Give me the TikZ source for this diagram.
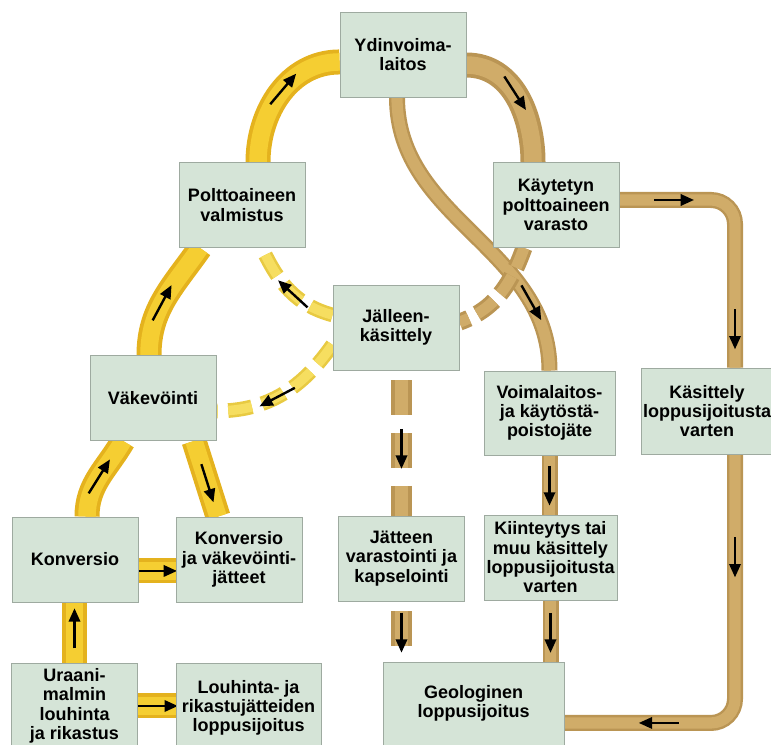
\documentclass[tikz,border=0pt]{standalone}
\usepackage{fontspec}
\setmainfont{Liberation Sans}
\usetikzlibrary{arrows.meta,decorations.markings}
\definecolor{boxfill}{RGB}{213,228,215}
\definecolor{boxline}{RGB}{158,170,160}
\definecolor{goldedge}{RGB}{228,178,30}
\definecolor{goldcore}{RGB}{245,206,50}
\definecolor{tanedge}{RGB}{186,149,84}
\definecolor{tancore}{RGB}{208,172,105}
\definecolor{paleedge}{RGB}{232,202,66}
\definecolor{palecore}{RGB}{246,222,96}
\pgfdeclarelayer{background}
\pgfsetlayers{background,main}
\tikzset{
  box/.style={rectangle, fill=boxfill, draw=boxline, line width=0.7pt,
    minimum width=94.5pt, minimum height=63.75pt, inner sep=1pt, align=center,
    font=\fontsize{13.5}{14.5}\selectfont\bfseries},
  pipe/.style n args={3}{draw=#2, line width=0.7*#3, preaction={draw=#1, line width=#3}},
  dashpipe/.style n args={4}{draw=#2, line width=0.65*#3, dash=#4,
    preaction={draw=#1, line width=#3, dash=#4}},
  ypipe/.style={pipe={goldedge}{goldcore}{18.75pt}},
  tpipe/.style={pipe={tanedge}{tancore}{12pt}},
  tpipe thick/.style={pipe={tanedge}{tancore}{18.75pt}},
  ydash/.style={dashpipe={paleedge}{palecore}{11pt}{on 18pt off 8pt phase 0pt}},
  tdash/.style={dashpipe={tanedge}{tancore}{15.75pt}{on 26pt off 13.5pt phase 32pt}},
  tdash thin/.style={dashpipe={tanedge}{tancore}{12.75pt}{on 16pt off 7pt phase 0pt}},
  flowarrow/.style={solid, draw=black, line width=1.8pt, line cap=butt,
    -{Triangle[length=10pt,width=8.5pt]}},
  flow/.style={postaction={decorate, decoration={markings,
    mark=at position #1 with {\draw[flowarrow] (-20,0) -- (20,0);}}}}
}
\begin{document}
\begin{tikzpicture}[x=0.75pt,y=0.75pt]
\useasboundingbox (0,0) rectangle (771,745);
%
\node[box] (ydin) at (403,690.5) {Ydinvoima-\\laitos};
\node[box] (poltto) at (242,540) {Polttoaineen\\valmistus};
\node[box] (kaytetty) at (556,540) {Käytetyn\\polttoaineen\\varasto};
\node[box] (jalleen) at (396,417.5) {Jälleen-\\käsittely};
\node[box] (vakev) at (153,347) {Väkevöinti};
\node[box] (konv) at (75,185.5) {Konversio};
\node[box] (konvjate) at (239,185.5) {Konversio\\ja väkevöinti-\\jätteet};
\node[box, minimum height=64.5pt] (uraani) at (74.5,39) {Uraani-\\malmin\\louhinta\\ja rikastus};
\node[box, minimum width=108.75pt, minimum height=67.5pt] (louhinta) at (248.5,37) {Louhinta- ja\\rikastujätteiden\\loppusijoitus};
\node[box] (jatteen) at (401.5,186.5) {Jätteen\\varastointi ja\\kapselointi};
\node[box, minimum width=98.25pt, minimum height=63pt] (voima) at (549.5,332) {Voimalaitos-\\ja käytöstä-\\poistojäte};
\node[box, minimum width=99.75pt] (kiint) at (550.5,187.5) {Kiinteytys tai\\muu käsittely\\loppusijoitusta\\varten};
\node[box, minimum width=99pt, minimum height=64.5pt] (kasittely) at (707,334) {Käsittely\\loppusijoitusta\\varten};
\node[box, minimum width=135.75pt, minimum height=62.25pt] (geol) at (473.5,41.5) {Geologinen\\loppusijoitus};
%
\begin{pgfonlayer}{background}
\draw[ypipe, flow=0.57] (uraani.north) -- (uraani.north |- konv.south);
\draw[ypipe, flow=0.53] (uraani.east) -- (uraani.east -| louhinta.west);
\draw[ypipe, flow=0.5] ([yshift=-8.6pt]konv.east) -- ([yshift=-8.6pt]konvjate.west);
\draw[ypipe, flow=0.5] ([xshift=9pt]konv.north) to[out=90,in=240] ([xshift=-22.5pt]vakev.south);
\draw[ypipe, flow=0.56] ([xshift=30.75pt]vakev.south) -- ([xshift=-15.75pt]konvjate.north);
\draw[ypipe, flow=0.45] ([xshift=-3pt]vakev.north) to[out=90,in=235] ([xshift=-31.5pt]poltto.south);
\draw[ypipe, flow=0.55] ([xshift=12pt]poltto.north) to[out=90,in=180] ([yshift=-5.6pt]ydin.west);
%
\draw[tpipe thick, flow=0.45] ([yshift=-7.9pt]ydin.east) to[out=0,in=90] ([xshift=-17.25pt]kaytetty.north);
\draw[tpipe, flow=0.78] ([xshift=-4.5pt]ydin.south) to[out=-90,in=90] (voima.north);
\draw[tpipe, rounded corners=18pt, flow=0.2, flow=0.86] ([yshift=3.75pt]kaytetty.east) -| ([xshift=21pt]kasittely.north);
\draw[tpipe, rounded corners=18pt, flow=0.24, flow=0.78] ([xshift=21pt]kasittely.south) |- ([yshift=-14.6pt]geol.east);
\draw[tpipe, flow=0.51] (voima.south) -- (voima.south |- kiint.north);
\draw[tpipe, flow=0.53] (kiint.south) -- (kiint.south |- geol.north);
%
\draw[tdash, flow=0.54] (jalleen.south -| jatteen.north) -- (jatteen.north);
\draw[tdash, flow=0.52] (jatteen.south) -- (jatteen.south |- geol.north);
\draw[tdash thin] ([xshift=-24pt]kaytetty.south) to[out=-110,in=20] ([yshift=4pt]jalleen.east);
\draw[ydash, flow=0.45] ([yshift=9.4pt]jalleen.west) to[out=165,in=-65] ([xshift=15pt]poltto.south);
\draw[ydash, flow=0.55] ([yshift=-13pt]jalleen.west) to[out=235,in=0] ([yshift=-9.75pt]vakev.east);
\end{pgfonlayer}
\end{tikzpicture}
\end{document}
